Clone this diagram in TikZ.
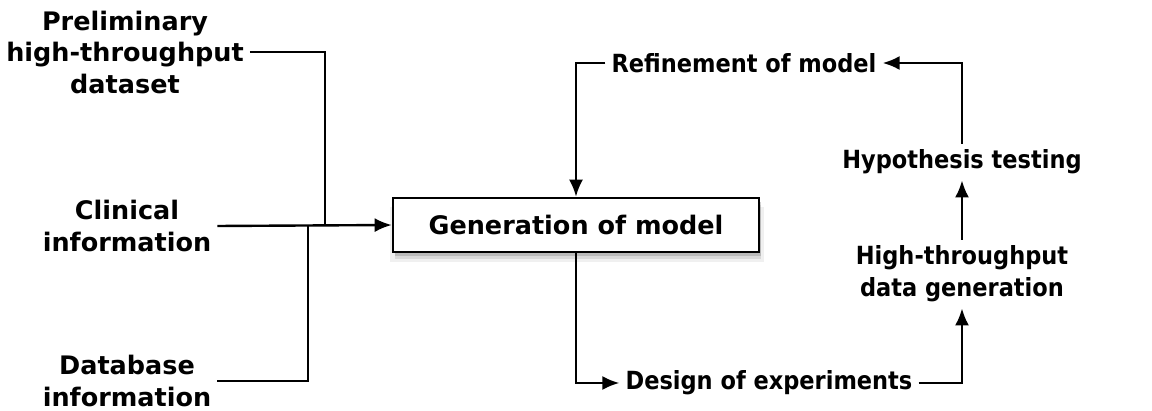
\documentclass[tikz,border=0pt]{standalone}
\usepackage{fontspec}
\setmainfont{DejaVu Sans}
\newfontfamily\condfont{DejaVu Sans Condensed}
\usetikzlibrary{arrows.meta,shadows}
\begin{document}
\begin{tikzpicture}[x=1pt,y=-1pt,
  lbl/.style={font=\fontsize{25.5}{31.5}\selectfont\bfseries, align=center, inner sep=6pt},
  rlbl/.style={font=\condfont\fontsize{25}{32}\selectfont\bfseries, align=center, inner sep=6pt},
  conn/.style={line width=2.4pt, draw=black},
  arr/.style={conn, -{Latex[length=17pt,width=14pt]}},
  genbox/.style={draw=black, line width=2.6pt, fill=white, minimum width=366pt, minimum height=54pt,
     font=\fontsize{25.5}{31.5}\selectfont\bfseries,
     drop shadow={shadow xshift=1pt, shadow yshift=-9pt, opacity=0.12, shadow scale=1.02},
     drop shadow={shadow xshift=2pt, shadow yshift=-7pt, opacity=0.2},
     drop shadow={shadow xshift=2pt, shadow yshift=-4pt, opacity=0.35}}
]
\useasboundingbox (0,0) rectangle (1152,411);
\node[lbl] (prelim) at (125,52) {Preliminary\\high-throughput\\dataset};
\node[lbl] (clin) at (127,226) {Clinical\\information};
\node[lbl] (db) at (127,381) {Database\\information};
\node[genbox] (gen) at (576,225) {Generation of model};
\node[rlbl] (refine) at (744,63) {Refinement of model};
\node[rlbl] (design) at (769,383) {Design of experiments};
\node[rlbl] (hyp) at (962,162) {Hypothesis testing};
\node[rlbl] (hts) at (962,274) {High-throughput\\data generation};
\coordinate (jtop) at (325,226);
\coordinate (jbot) at (308,226);
\draw[conn] (prelim.east) -| (jtop);
\draw[conn] (db.east) -| (jbot);
\draw[arr] (clin.east) -- (gen.west);
\draw[arr] (refine.west) -| (gen.north);
\draw[arr] (gen.south) |- (design.west);
\draw[arr] (design.east) -| (hts.south);
\draw[arr] (hts.north) -- (hyp.south);
\draw[arr] (hyp.north) |- (refine.east);
\end{tikzpicture}
\end{document}
